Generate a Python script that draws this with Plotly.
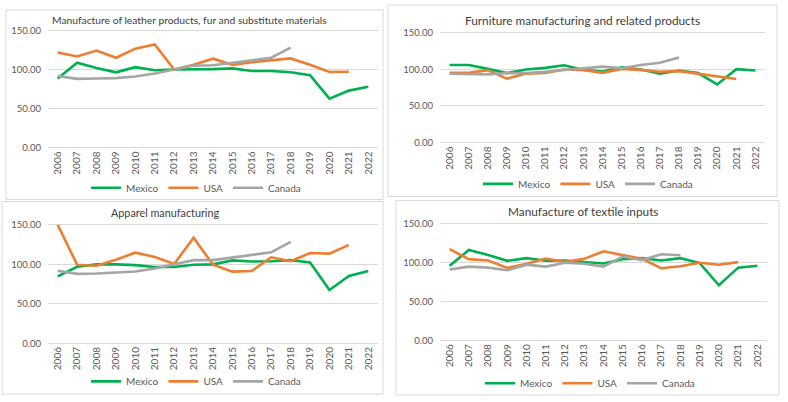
import plotly.graph_objects as go

# ------------------------------------------------------------------
# data (index values)
# ------------------------------------------------------------------
years = list(range(2006, 2023))

leather_mexico = [88.5, 108.8, 102.0, 96.4, 103.0, 99.0, 100.0, 100.0, 100.5, 101.4,
                  98.0, 98.0, 96.4, 92.6, 62.7, 73.0, 78.0]
leather_usa = [121.7, 116.7, 124.2, 115.0, 126.7, 132.0, 100.0, 106.0, 113.8, 106.0,
               109.3, 111.3, 114.2, 106.0, 96.8, 97.2]
leather_canada = [91.8, 88.0, 88.5, 89.0, 91.0, 95.0, 100.0, 105.0, 105.5, 108.4,
                  112.0, 115.0, 128.0]

furniture_mexico = [105.7, 105.7, 100.4, 94.7, 99.6, 101.8, 105.3, 99.0, 96.9, 102.6,
                    99.6, 93.8, 98.2, 94.7, 79.2, 100.0, 98.2]
furniture_usa = [95.0, 95.0, 98.7, 87.0, 94.0, 94.7, 99.6, 99.0, 95.0, 100.4,
                 99.0, 96.5, 97.3, 93.8, 90.7, 86.7]
furniture_canada = [93.8, 92.9, 92.9, 94.7, 94.7, 96.5, 99.0, 101.8, 103.5, 101.3,
                    105.7, 108.8, 115.9]

apparel_mexico = [84.7, 97.0, 100.0, 100.0, 99.0, 96.7, 96.7, 99.6, 100.0, 105.0,
                  103.7, 104.0, 105.4, 102.4, 67.5, 85.4, 91.6]
apparel_usa = [150.0, 99.6, 98.2, 106.0, 114.8, 109.4, 100.4, 133.9, 99.5, 90.8,
               91.6, 109.0, 104.0, 114.4, 113.6, 124.7]
apparel_canada = [91.8, 88.0, 88.5, 89.3, 91.0, 94.7, 100.0, 105.4, 105.4, 109.0,
                  112.4, 115.3, 128.6]

textile_mexico = [96.2, 116.4, 110.0, 102.5, 105.9, 102.5, 102.9, 100.8, 99.0, 104.6,
                  105.9, 102.9, 105.9, 99.6, 71.0, 93.7, 96.2]
textile_usa = [117.6, 104.6, 102.9, 93.3, 98.7, 105.5, 100.8, 105.0, 114.7, 110.0,
               105.0, 92.9, 95.4, 100.0, 97.5, 100.8]
textile_canada = [91.2, 95.0, 93.7, 90.3, 97.5, 95.0, 100.0, 98.7, 95.0, 108.0,
                  103.4, 110.9, 109.7]

y_ticks = [0, 50, 100, 150]

# ------------------------------------------------------------------
# layout helpers (pixel positions measured on the 788x402 picture)
# ------------------------------------------------------------------
W, H = 788, 402
Y_LO, Y_HI = -1, 152

GREEN = "#00B050"
ORANGE = "#ED7D31"
GREY = "#A5A5A5"
GRID = "#D9D9D9"
TXT = "#595959"
FONT = "Lato, 'Open Sans', sans-serif"


def px_x(p):
    return p / W


def px_y(p):
    return 1 - p / H


def y_domain(p0, p150):
    # p0 / p150 = pixel rows of the 0 and 150 gridlines
    per = (p0 - p150) / 150.0
    bottom = p0 + (0 - Y_LO) * per
    top = p150 - (Y_HI - 150) * per
    return [px_y(bottom), px_y(top)]


panels = [
    dict(title="Manufacture of leather products, fur and substitute materials",
         series=(leather_mexico, leather_usa, leather_canada),
         xpx=(48, 378), ypx=(147, 27), tpos=(50, 16, "left"), tsize=10.3,
         lpos=(196, 188), box=(6, 6, 383, 200)),
    dict(title="Furniture manufacturing and related products",
         series=(furniture_mexico, furniture_usa, furniture_canada),
         xpx=(440, 765), ypx=(142, 29), tpos=(582, 17, "center"), tsize=11.8,
         lpos=(588, 184), box=(388, 1, 777, 197)),
    dict(title="Apparel manufacturing",
         series=(apparel_mexico, apparel_usa, apparel_canada),
         xpx=(48, 378), ypx=(347, 226), tpos=(165, 213, "center"), tsize=10.8,
         lpos=(196, 386), box=(2, 202, 383, 399)),
    dict(title="Manufacture of textile inputs",
         series=(textile_mexico, textile_usa, textile_canada),
         xpx=(440, 767), ypx=(344, 225), tpos=(583, 212, "center"), tsize=11.8,
         lpos=(590, 388), box=(396, 201, 779, 400)),
]

names = ["Mexico", "USA", "Canada"]
colors = [GREEN, ORANGE, GREY]

fig = go.Figure()
layout = dict(
    width=W, height=H,
    margin=dict(l=0, r=0, t=0, b=0),
    paper_bgcolor="white", plot_bgcolor="white",
    font=dict(family=FONT, color=TXT, size=10),
    shapes=[], annotations=[],
)

for i, p in enumerate(panels, start=1):
    sfx = "" if i == 1 else str(i)
    leg = "legend" if i == 1 else f"legend{i}"
    for name, color, vals in zip(names, colors, p["series"]):
        fig.add_trace(go.Scatter(
            x=years[:len(vals)], y=vals, mode="lines", name=name,
            line=dict(color=color, width=2.6),
            xaxis=f"x{sfx}", yaxis=f"y{sfx}", legend=leg,
        ))

    layout[f"xaxis{sfx}"] = dict(
        domain=[px_x(p["xpx"][0]), px_x(p["xpx"][1])],
        anchor=f"y{sfx}", range=[2005.5, 2022.5],
        tickmode="array", tickvals=years, ticktext=[str(y) for y in years],
        tickangle=-90, showgrid=False, zeroline=False, showline=False,
        ticks="", tickfont=dict(size=10, color=TXT),
    )
    layout[f"yaxis{sfx}"] = dict(
        domain=y_domain(*p["ypx"]), anchor=f"x{sfx}",
        range=[Y_LO, Y_HI], tickvals=y_ticks, tickformat=".2f",
        showgrid=True, gridcolor=GRID, gridwidth=1,
        zeroline=True, zerolinecolor=GRID, zerolinewidth=1,
        showline=False, ticks="", ticklabelstandoff=6,
        tickfont=dict(size=9.5, color=TXT),
    )
    layout[leg] = dict(
        orientation="h", x=px_x(p["lpos"][0]), y=px_y(p["lpos"][1]),
        xanchor="center", yanchor="middle", bgcolor="rgba(0,0,0,0)",
        font=dict(size=10, color=TXT), itemwidth=30, tracegroupgap=0,
    )
    tx, ty, align = p["tpos"]
    layout["annotations"].append(dict(
        text=p["title"], x=px_x(tx), y=px_y(ty), xref="paper", yref="paper",
        xanchor=align, yanchor="middle", showarrow=False,
        font=dict(size=p["tsize"], color="#404040", family=FONT),
    ))
    x0, y0, x1, y1 = p["box"]
    layout["shapes"].append(dict(
        type="rect", xref="paper", yref="paper",
        x0=px_x(x0), x1=px_x(x1), y0=px_y(y1), y1=px_y(y0),
        line=dict(color=GRID, width=1), fillcolor="rgba(0,0,0,0)", layer="below",
    ))

fig.update_layout(**layout)
# drop the default 8px body margin so the figure sits at the page origin
fig.write_html("out.html", config={"displayModeBar": False},
               post_script="document.body.style.margin='0';")
